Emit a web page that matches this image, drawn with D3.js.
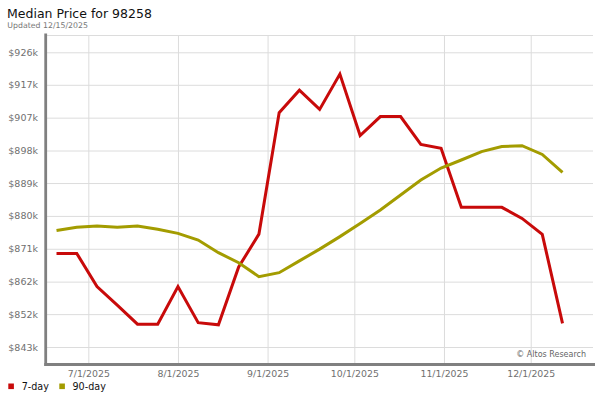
<!DOCTYPE html>
<html>
<head>
<meta charset="utf-8">
<script src="https://cdn.jsdelivr.net/npm/d3@7"></script>
<style>
  html, body { margin: 0; padding: 0; background: #fff; }
  svg { display: block; font-family: "DejaVu Sans", sans-serif; }
</style>
</head>
<body>
<svg id="chart" width="600" height="400"></svg>
<script>
// ---- data ----
const dates = ["2025-06-20","2025-06-27","2025-07-04","2025-07-11","2025-07-18","2025-07-25",
  "2025-08-01","2025-08-08","2025-08-15","2025-08-22","2025-08-29","2025-09-05","2025-09-12",
  "2025-09-19","2025-09-26","2025-10-03","2025-10-10","2025-10-17","2025-10-24","2025-10-31",
  "2025-11-07","2025-11-14","2025-11-21","2025-11-28","2025-12-05","2025-12-12"];
const sevenDay = [869.4, 869.4, 860.1, 854.9, 849.6, 849.6, 860.1, 850.0, 849.4, 865.6, 874.8,
  908.8, 915.1, 909.7, 919.6, 902.4, 907.7, 907.7, 899.9, 898.8, 882.3, 882.3, 882.3, 879.2,
  874.75, 849.8];
const ninetyDay = [875.8, 876.7, 877.1, 876.7, 877.1, 876.15, 875.0, 873.15, 869.6, 866.8, 862.9,
  864.0, 867.3, 870.6, 874.1, 877.8, 881.55, 885.75, 889.95, 893.3, 895.55, 897.9, 899.3, 899.55,
  897.1, 892.1];
const yTickValues = [843.2, 852.4, 861.5, 870.7, 879.9, 889.1, 898.2, 907.4, 916.6, 925.7];
const yTickLabels = ["$843k","$852k","$862k","$871k","$880k","$889k","$898k","$907k","$917k","$926k"];
const xTickDates = ["2025-07-01","2025-08-01","2025-09-01","2025-10-01","2025-11-01","2025-12-01"];
const xTickLabels = ["7/1/2025","8/1/2025","9/1/2025","10/1/2025","11/1/2025","12/1/2025"];
const seriesNames = ["7-day", "90-day"];
const seriesColors = ["#c80a0a", "#a39c00"];

// ---- layout ----
const svg = d3.select("#chart");
const plot = { left: 47, right: 593, top: 35.5, bottom: 363 };
const parse = d3.timeParse("%Y-%m-%d");

const x = d3.scaleTime()
  .domain([new Date(2025, 5, 16, 17), new Date(2025, 11, 22, 13)])
  .range([plot.left, plot.right]);
const y = d3.scaleLinear()
  .domain([838.72, 930.4])
  .range([plot.bottom, plot.top]);

// plot background
svg.append("rect").attr("x", plot.left).attr("y", plot.top)
  .attr("width", plot.right - plot.left).attr("height", plot.bottom - plot.top)
  .attr("fill", "#fff");

// horizontal grid + y labels via axis
const yAxis = d3.axisLeft(y)
  .tickValues(yTickValues)
  .tickFormat((d, i) => yTickLabels[i])
  .tickSize(-(plot.right - plot.left))
  .tickPadding(9);
const gy = svg.append("g").attr("transform", `translate(${plot.left},0)`).call(yAxis);
gy.select(".domain").remove();
gy.selectAll(".tick line").attr("stroke", "#dcdcdc").attr("stroke-width", 1);
gy.selectAll(".tick text").attr("fill", "#707070").style("font-size", "9.5px")
  .style("font-family", "DejaVu Sans, sans-serif");

// vertical grid + x labels
const xAxis = d3.axisBottom(x)
  .tickValues(xTickDates.map(parse))
  .tickFormat((d, i) => xTickLabels[i])
  .tickSize(-(plot.bottom - plot.top))
  .tickPadding(6);
const gx = svg.append("g").attr("transform", `translate(0,${plot.bottom})`).call(xAxis);
gx.select(".domain").remove();
gx.selectAll(".tick line").attr("stroke", "#dcdcdc").attr("stroke-width", 1);
gx.selectAll(".tick text").attr("fill", "#707070").style("font-size", "9.4px")
  .style("font-family", "DejaVu Sans, sans-serif").attr("dy", "0.9em");

// top border
svg.append("line").attr("x1", plot.left).attr("x2", plot.right)
  .attr("y1", plot.top).attr("y2", plot.top).attr("stroke", "#dcdcdc");

// axis bars
svg.append("line").attr("x1", 45.7).attr("x2", 45.7).attr("y1", 33.5).attr("y2", 366)
  .attr("stroke", "#808080").attr("stroke-width", 2.8);
svg.append("line").attr("x1", 44.3).attr("x2", 595).attr("y1", 364.5).attr("y2", 364.5)
  .attr("stroke", "#808080").attr("stroke-width", 3);

// lines
const line = d3.line().x((d, i) => x(parse(dates[i]))).y(d => y(d));
[sevenDay, ninetyDay].forEach((s, k) => {
  svg.append("path").datum(s).attr("d", line)
    .attr("fill", "none").attr("stroke", seriesColors[k]).attr("stroke-width", 3)
    .attr("stroke-linejoin", "miter").attr("stroke-linecap", "butt");
});

// title
svg.append("text").attr("x", 7).attr("y", 17.5).text("Median Price for 98258")
  .attr("fill", "#111").style("font-size", "12.5px");
svg.append("text").attr("x", 7.3).attr("y", 27.8).text("Updated 12/15/2025")
  .attr("fill", "#777").style("font-size", "7.8px");

// watermark
svg.append("text").attr("x", 586).attr("y", 356.5).attr("text-anchor", "end")
  .text("© Altos Research").attr("fill", "#666").style("font-size", "8px");

// legend
const legendX = [8.3, 59.3];
const legendTextX = [21.7, 72.5];
seriesNames.forEach((n, k) => {
  svg.append("rect").attr("x", legendX[k]).attr("y", 383.5).attr("width", 5.6).attr("height", 5.6)
    .attr("fill", seriesColors[k]);
  svg.append("text").attr("x", legendTextX[k]).attr("y", 390).text(n)
    .attr("fill", "#111").style("font-size", "9.6px");
});
</script>
</body>
</html>
